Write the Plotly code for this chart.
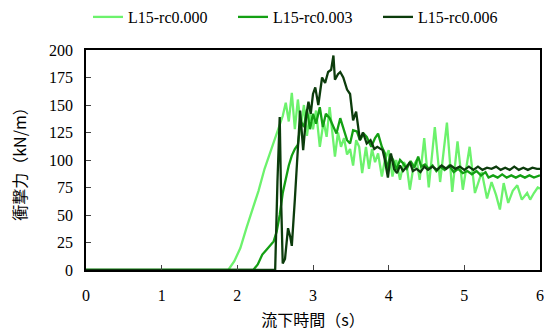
import plotly.graph_objects as go

# L15-rc0.000
t0 = [0, 1.88, 1.96, 2.04, 2.12, 2.20, 2.28, 2.36, 2.44, 2.52, 2.56, 2.60, 2.64, 2.68, 2.72, 2.76,
      2.80, 2.84, 2.88, 2.92, 2.96, 3.00, 3.04, 3.09, 3.14, 3.18, 3.22, 3.26, 3.29, 3.33, 3.37,
      3.41, 3.45, 3.49, 3.53, 3.57, 3.61, 3.65, 3.70, 3.74, 3.78, 3.82, 3.86, 3.91, 3.95, 4.00,
      4.05, 4.10, 4.15, 4.20, 4.24, 4.28, 4.33, 4.37, 4.41, 4.47, 4.53, 4.61, 4.68, 4.77, 4.84,
      4.91, 4.98, 5.07, 5.14, 5.23, 5.30, 5.36, 5.42, 5.47, 5.52, 5.58, 5.64, 5.70, 5.76, 5.83,
      5.87, 5.92, 5.97, 6.0]
v0 = [0, 0, 8, 20, 38, 55, 72, 92, 108, 126, 133, 140, 152, 135, 161, 128,
      155, 130, 150, 122, 142, 128, 145, 112, 135, 121, 148, 120, 103, 125, 112,
      120, 105, 110, 95, 118, 112, 88, 112, 92, 110, 98, 106, 85, 100, 109,
      85, 100, 82, 98, 94, 73, 95, 100, 82, 120, 75, 130, 80, 134, 71,
      117, 73, 112, 70, 89, 65, 80, 68, 55, 79, 61, 72, 77, 64, 70,
      64, 70, 75, 74]

# L15-rc0.003
t3 = [0, 2.21, 2.27, 2.33, 2.38, 2.43, 2.48, 2.52, 2.56, 2.60, 2.64, 2.68, 2.72, 2.76, 2.80,
      2.84, 2.88, 2.92, 2.96, 3.00, 3.04, 3.09, 3.13, 3.17, 3.22, 3.26, 3.31, 3.36, 3.40, 3.45,
      3.49, 3.53, 3.58, 3.62, 3.67, 3.71, 3.77, 3.82, 3.86, 3.91, 3.95, 3.98, 4.02, 4.06, 4.10,
      4.15, 4.19, 4.24, 4.29, 4.34, 4.39, 4.43, 4.48, 4.53, 4.58, 4.63, 4.68, 4.74, 4.80, 4.86,
      4.92, 4.98, 5.04, 5.10, 5.16, 5.22, 5.28, 5.32, 5.38, 5.44, 5.50, 5.56, 5.62, 5.68, 5.74,
      5.80, 5.86, 5.92, 6.0]
v3 = [0, 0, 5, 14, 18, 22, 26, 35, 50, 70, 84, 95, 104, 110, 114,
      135, 130, 146, 128, 142, 133, 148, 130, 142, 138, 132, 124, 138, 130, 118,
      115, 127, 126, 118, 124, 121, 112, 120, 124, 112, 106, 91, 105, 100, 91,
      100, 97, 92, 99, 93, 103, 94, 96, 92, 95, 90, 94, 91, 95, 89,
      92, 88, 90, 87, 90, 86, 89, 84, 86, 84, 87, 84, 86, 84, 86,
      84, 86, 84, 86]

# L15-rc0.006
t6 = [0, 2.50, 2.53, 2.56, 2.58, 2.60, 2.63, 2.67, 2.70, 2.72, 2.76, 2.80, 2.83, 2.87, 2.91,
      2.94, 2.97, 3.00, 3.03, 3.07, 3.10, 3.12, 3.16, 3.20, 3.24, 3.27, 3.29, 3.33, 3.36, 3.40,
      3.45, 3.49, 3.53, 3.57, 3.62, 3.66, 3.71, 3.76, 3.81, 3.85, 3.92, 3.95, 3.99, 4.03, 4.07,
      4.11, 4.15, 4.19, 4.24, 4.28, 4.32, 4.37, 4.42, 4.47, 4.52, 4.58, 4.64, 4.70, 4.76, 4.82,
      4.88, 4.94, 5.00, 5.06, 5.12, 5.18, 5.24, 5.30, 5.36, 5.42, 5.48, 5.54, 5.60, 5.66, 5.72,
      5.78, 5.84, 5.90, 5.96, 6.0]
v6 = [0, 0, 80, 139, 60, 6, 10, 38, 30, 22, 64, 115, 145, 109, 140,
      153, 142, 160, 166, 150, 168, 175, 170, 180, 182, 195, 173, 178, 180, 175,
      164, 160, 136, 144, 118, 125, 115, 118, 110, 112, 109, 100, 84, 106, 92,
      88, 95, 90, 94, 98, 90, 92, 89, 94, 91, 94, 91, 95, 92, 95,
      92, 94, 91, 94, 91, 94, 91, 93, 92, 94, 91, 93, 91, 94, 91,
      93, 91, 93, 92, 92]

names = ["L15-rc0.000", "L15-rc0.003", "L15-rc0.006"]
colors = ["#6CF26C", "#14A014", "#0C3C0C"]
xticks = [0, 1, 2, 3, 4, 5, 6]
yticks = [0, 25, 50, 75, 100, 125, 150, 175, 200]

fig = go.Figure()
for tt, vv, nm, c in zip([t0, t3, t6], [v0, v3, v6], names, colors):
    fig.add_trace(go.Scatter(x=tt, y=vv, mode="lines", name=nm,
                             line=dict(color=c, width=2.3)))

serif = "Liberation Serif"
cjk = "Noto Sans CJK JP"
fig.update_layout(
    width=554, height=334,
    margin=dict(l=86, r=14, t=50, b=64, autoexpand=False),
    paper_bgcolor="white", plot_bgcolor="white",
    font=dict(family=serif, size=16, color="black"),
    showlegend=True,
    legend=dict(orientation="h", x=88 / 554, xanchor="left", xref="container",
                y=1.0, yanchor="top", yref="container",
                font=dict(family=serif, size=16, color="black"),
                itemwidth=30, entrywidth=100, entrywidthmode="pixels",
                bgcolor="rgba(0,0,0,0)"),
    xaxis=dict(range=[0, 6], tickvals=xticks, ticks="inside", ticklen=5,
               tickfont=dict(family=serif, size=16), ticklabelstandoff=10,
               showline=True, linecolor="black", linewidth=1.5, mirror=True,
               showgrid=False, zeroline=False,
               title=dict(text="流下時間（s）", standoff=12,
                          font=dict(size=16, family=cjk))),
    yaxis=dict(range=[0, 200], tickvals=yticks, ticks="inside", ticklen=5,
               tickfont=dict(family=serif, size=16), ticklabelstandoff=8,
               showline=True, linecolor="black", linewidth=1.5, mirror=True,
               showgrid=False, zeroline=False,
               title=dict(text="衝撃力（kN/m）", standoff=18,
                          font=dict(size=16, family=cjk))),
)
fig.write_html("out.html")
